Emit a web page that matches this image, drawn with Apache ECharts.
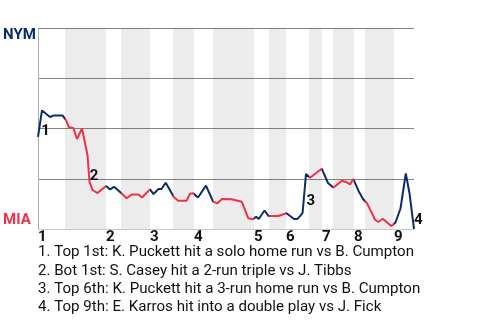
<!DOCTYPE html>
<html><head><meta charset="utf-8">
<script src="https://cdn.jsdelivr.net/npm/echarts@6/dist/echarts.min.js"></script>
<style>html,body{margin:0;padding:0;background:#fff}#c{width:480px;height:320px}</style>
</head><body><div id="c"></div>
<script>
// Game progress (event position, 0..100) and NYM win probability (%)
const progress = [0,1.06,3.19,4.26,6.52,7.45,8.24,9.39,10.37,11.70,13.16,13.70,14.49,15.82,18.09,19.15,20.21,21.54,23.59,24.87,26.73,27.66,29.79,30.72,32.05,32.85,33.96,34.92,36.17,37.31,39.55,40.43,41.30,42.55,44.68,46.54,47.61,48.94,51.52,54.18,55.93,57.18,58.03,58.72,60.24,61.30,63.91,66.09,68.09,69.02,69.87,70.37,71.28,71.68,72.34,75.45,77.13,78.54,80.85,81.91,82.98,83.86,85.19,86.44,87.50,88.64,89.63,90.51,91.68,93.96,95.08,96.41,97.82,98.80,100];
const nymWinPct = [45.8,59.0,55.7,56.5,56.5,54.2,50.6,50.3,44.8,50.0,36.8,23.4,19.4,17.9,21.4,19.7,21.0,18.9,15.3,17.2,17.2,15.7,19.7,17.4,19.9,19.9,23.0,19.9,15.8,14.1,14.1,17.6,17.8,15.7,21.6,13.8,12.7,14.9,14.8,13.6,5.3,4.9,6.1,5.0,9.2,6.5,6.5,7.8,5.0,5.0,6.8,8.1,27.4,27.4,25.5,30.0,22.9,20.6,24.0,23.4,22.2,24.8,19.2,14.9,12.8,8.5,4.6,3.5,5.1,1.5,3.3,10.2,27.6,17.8,0];
// Half-inning boundaries (same progress scale)
const topStart = [0,18.09,29.79,41.49,57.45,65.96,75.53,84.04,94.68];
const botStart = [7.18,22.07,35.9,46.54,61.44,72.07,78.46,86.97];
const gameEnd = 100;
const inningLabels = ['1','2','3','4','5','6','7','8','9'];
// Key events (index into the series) and their notes
const eventIdx = [1,11,52,74];
const eventNotes = [
  '1. Top 1st: K. Puckett hit a solo home run vs B. Cumpton',
  '2. Bot 1st: S. Casey hit a 2-run triple vs J. Tibbs',
  '3. Top 6th: K. Puckett hit a 3-run home run vs B. Cumpton',
  '4. Top 9th: E. Karros hit into a double play vs J. Fick'
];
const teamTop = 'NYM', teamBottom = 'MIA';
const yTicks = [0,25,50,75,100];

// ---- styles ----
const NAVY = '#0b2c6b', RED = '#ee3048';
const FONT = 'Roboto';
const noteOffsets = [[3.5,21],[4.5,-6],[4.7,27.3],[4.3,-9]];

const lineData = progress.map((x,i)=>[x,nymWinPct[i]]);
const pieces = [];
topStart.forEach((t,i)=>{
  const end = i < botStart.length ? botStart[i] : gameEnd + 1;
  pieces.push({gte: t - (i===0?1:0), lt: end, color: NAVY});
  if (i < botStart.length) pieces.push({gte: botStart[i], lt: topStart[i+1], color: RED});
});
const bands = botStart.map((b,i)=>[{xAxis:b},{xAxis: i+1<topStart.length ? topStart[i+1] : gameEnd}]);

const labelStyle = {fontFamily:FONT,fontWeight:'bold',fontSize:15,color:'#111',
  textBorderWidth:0,textBorderColor:'transparent',opacity:1};

const chart = echarts.init(document.getElementById('c'), null, {renderer:'canvas'});
chart.setOption({
  animation:false,
  grid:{left:38,right:66,top:28,bottom:91},
  xAxis:{type:'value',min:0,max:gameEnd,z:1,
    axisLine:{show:true,onZero:false,lineStyle:{color:'#c8c8c8',width:1}},
    axisTick:{show:false},axisLabel:{show:false},splitLine:{show:false}},
  yAxis:{type:'value',min:yTicks[0],max:yTicks[yTicks.length-1],interval:25,
    axisLine:{show:true,lineStyle:{color:'#aaaaaa',width:1}},
    axisTick:{show:false},axisLabel:{show:false},
    splitLine:{show:true,lineStyle:{color:'#888888',width:1}}},
  visualMap:{show:false,type:'piecewise',dimension:0,seriesIndex:0,pieces:pieces},
  series:[
    {type:'line',data:lineData,showSymbol:false,symbol:'none',z:3,
     lineStyle:{width:2},
     markArea:{silent:true,itemStyle:{color:'rgba(0,0,0,0.075)'},data:bands}},
    {type:'scatter',symbolSize:0,itemStyle:{color:'#111'},clip:false,z:4,silent:true,
     data:topStart.map((t,i)=>({value:[t,0],name:inningLabels[i]})),
     label:Object.assign({show:true,position:'inside',align:'left',offset:[0,8.5],formatter:p=>p.name},labelStyle)},
    {type:'scatter',symbolSize:0,itemStyle:{color:'#111'},clip:false,z:4,silent:true,
     data:eventIdx.map((k,i)=>({value:[progress[k],nymWinPct[k]],name:String(i+1),
       label:{offset:noteOffsets[i]}})),
     label:Object.assign({show:true,position:'inside',formatter:p=>p.name},labelStyle)}
  ],
  graphic:[
    {type:'text',left:3,top:28,style:{text:teamTop,fontFamily:FONT,fontWeight:'bold',fontSize:15,fill:NAVY}},
    {type:'text',left:3,top:213,style:{text:teamBottom,fontFamily:FONT,fontWeight:'bold',fontSize:15,fill:RED}},
    {type:'text',left:38,top:243.5,style:{text:eventNotes.join('\n'),fontFamily:FONT,fontSize:15.1,lineHeight:18.3,fill:'#111'}}
  ]
});
</script></body></html>
